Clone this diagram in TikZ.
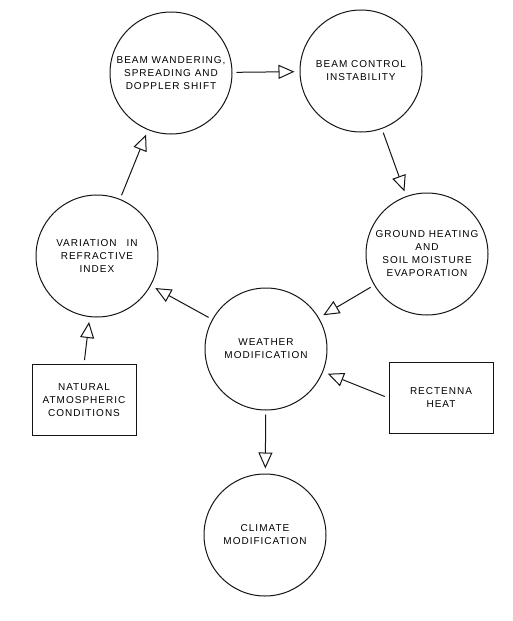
\documentclass[tikz,border=0pt]{standalone}
\usepackage{fontspec}
\newfontfamily\handFont[LetterSpace=10]{Liberation Sans}
\usetikzlibrary{arrows.meta}

\begin{document}
\begin{tikzpicture}[x=1pt, y=-1pt,
    stage/.style={circle, draw=borderColour, line width=1pt, minimum size=\circleSize pt, inner sep=0pt, align=center, font=\handFont\fontsize{10}{13}\selectfont},
    source/.style={rectangle, draw=borderColour, line width=1pt, minimum width=104pt, minimum height=71pt, inner sep=0pt, align=center, font=\handFont\fontsize{10}{13}\selectfont},
    flow/.style={draw=borderColour, line width=1pt, -{Triangle[open, length=16pt, width=14pt]}, shorten <=4pt, shorten >=5pt}]
    \def\circleSize{122}

    \definecolor{borderColour}{HTML}{141414}

    % Page
    \useasboundingbox (0,0) rectangle (512,621);
    \fill[white] (0,0) rectangle (512,621);

    % Circles
    \node[stage] (wandering) at (171,73) {BEAM WANDERING,\\SPREADING AND\\DOPPLER SHIFT};
    \node[stage] (control) at (361,71) {BEAM CONTROL\\INSTABILITY};
    \node[stage] (ground) at (427,254) {GROUND HEATING\\AND\\SOIL MOISTURE\\EVAPORATION};
    \node[stage] (refraction) at (97,256) {VARIATION\quad IN\\REFRACTIVE\\INDEX};
    \node[stage] (weather) at (266,349) {WEATHER\\MODIFICATION};
    \node[stage] (climate) at (265,535) {CLIMATE\\MODIFICATION};

    % Boxes
    \node[source] (natural) at (84,400) {NATURAL\\ATMOSPHERIC\\CONDITIONS};
    \node[source] (rectenna) at (441,398) {RECTENNA\\HEAT};

    % Arrows
    \draw[flow] (wandering) -- (control);
    \draw[flow] (control) -- (ground);
    \draw[flow] (ground) -- (weather);
    \draw[flow] (weather) -- (refraction);
    \draw[flow] (refraction) -- (wandering);
    \draw[flow] (natural.north) -- (refraction);
    \draw[flow] (rectenna.west) -- (weather);
    \draw[flow] (weather) -- (climate);

\end{tikzpicture}
\end{document}
